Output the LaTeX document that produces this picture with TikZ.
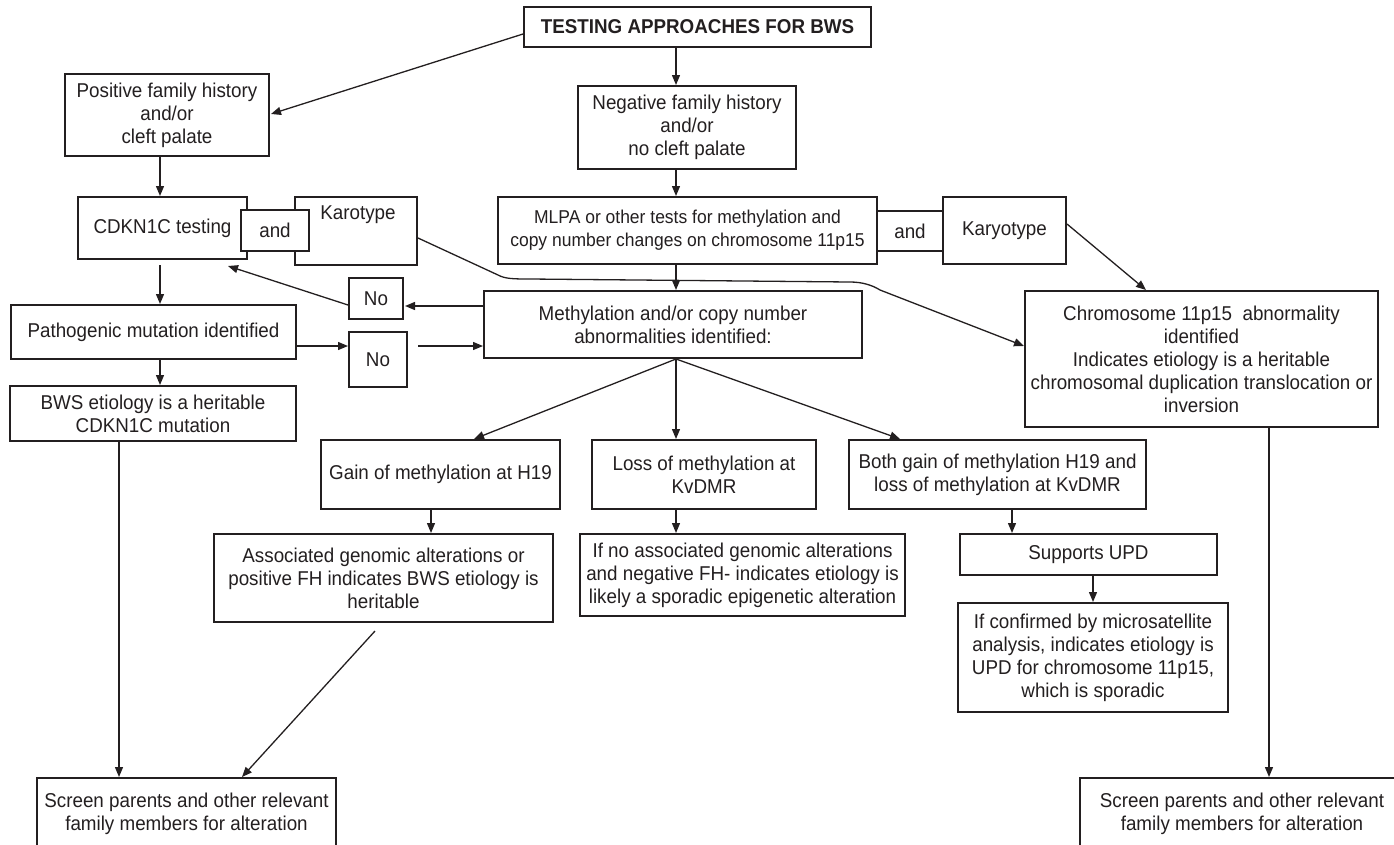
\documentclass[tikz,border=0pt]{standalone}
\usepackage{fontspec}
\setmainfont{Liberation Sans}[FakeStretch=0.94]
\usetikzlibrary{arrows.meta,calc}
\definecolor{ink}{HTML}{231F20}
\tikzset{
  box/.style={draw=ink, line width=2pt, fill=white, align=center, inner sep=0pt, text=ink,
              font=\fontsize{20}{23}\selectfont},
  txt/.style={align=center, inner sep=0pt, text=ink, font=\fontsize{20}{23}\selectfont},
  arr/.style={draw=ink, line width=1.3pt, -{Triangle[length=10pt,width=8pt]}},
  ln/.style={draw=ink, line width=1.3pt}
}
\begin{document}
\begin{tikzpicture}[x=1pt,y=-1pt]
\useasboundingbox (0,0) rectangle (1394,844);
% helper x positions
\coordinate (x676) at (676,0);
\coordinate (x160) at (160,0);
\coordinate (x119) at (119,0);
\coordinate (x431) at (431,0);
\coordinate (x1012) at (1012,0);
\coordinate (x1093) at (1093,0);
\coordinate (x1269) at (1269,0);

% nodes
\node[box, minimum width=347, minimum height=40] (title) at (697.5,27) {\textbf{TESTING APPROACHES FOR BWS}};
\node[box, minimum width=204, minimum height=82] (pos) at (167,115) {Positive family history\\and/or\\cleft palate};
\node[box, minimum width=218, minimum height=83] (neg) at (687,127.5) {Negative family history\\and/or\\no cleft palate};

\node[box, minimum width=169, minimum height=62] (cdk) at (162.5,228) {CDKN1C testing};
\node[box, minimum width=122, minimum height=68] (kar1) at (356,231) {};
\node[txt] (kar1t) at (358,215) {Karotype};
\node[box, minimum width=68, minimum height=41] (and1) at (275,230.5) {and};

\node[box, minimum width=379, minimum height=67, font=\fontsize{18.6}{23}\selectfont] (mlpa) at (687.5,230.5) {MLPA or other tests for methylation and\\copy number changes on chromosome 11p15};
\node[box, minimum width=123, minimum height=67] (kar2) at (1004.5,230.5) {Karyotype};
\node[box, minimum width=66, minimum height=40] (and2) at (910,231) {and};

\node[box, minimum width=285, minimum height=54] (path) at (153.5,332) {Pathogenic mutation identified};
\node[box, minimum width=54, minimum height=41] (no1) at (376,298.5) {No};
\node[box, minimum width=58, minimum height=55] (no2) at (378,359.5) {No};
\node[box, minimum width=378, minimum height=67] (meth) at (673,324.5) {Methylation and/or copy number\\abnormalities identified:};
\node[box, minimum width=353, minimum height=136] (chrom) at (1201.5,359) {Chromosome 11p15~~abnormality\\identified\\Indicates etiology is a heritable\\chromosomal duplication translocation or\\inversion};
\node[box, minimum width=286, minimum height=55] (bws) at (153,413.5) {BWS etiology is a heritable\\CDKN1C mutation};

\node[box, minimum width=239, minimum height=69] (gain) at (440.5,474.5) {Gain of methylation at H19};
\node[box, minimum width=224, minimum height=69] (loss) at (704,474.5) {Loss of methylation at\\KvDMR};
\node[box, minimum width=297, minimum height=69] (both) at (997.5,474.5) {Both gain of methylation H19 and\\loss of methylation at KvDMR};

\node[box, minimum width=339, minimum height=88] (assoc) at (383.5,578) {Associated genomic alterations or\\positive FH indicates BWS etiology is\\heritable};
\node[box, minimum width=325, minimum height=82] (ifno) at (742.5,575) {If no associated genomic alterations\\and negative FH- indicates etiology is\\likely a sporadic epigenetic alteration};
\node[box, minimum width=257, minimum height=41] (upd) at (1088.5,554.5) {Supports UPD};
\node[box, minimum width=270, minimum height=109] (conf) at (1093,657.5) {If confirmed by microsatellite\\analysis, indicates etiology is\\UPD for chromosome 11p15,\\which is sporadic};

\node[box, minimum width=299, minimum height=72] (scr1) at (186.5,814) {Screen parents and other relevant\\family members for alteration};
\node[box, minimum width=324, minimum height=72] (scr2) at (1242,814) {Screen parents and other relevant\\family members for alteration};

% connectors
\draw[arr] ($(title.west)+(0,7)$) -- ($(pos.east)+(1,-1)$);
\draw[arr] (title.south -| x676) -- (neg.north -| x676);
\draw[arr] (pos.south -| x160) -- (cdk.north -| x160);
\draw[arr] (neg.south -| x676) -- (mlpa.north -| x676);
\draw[arr] ($(cdk.south -| x160)+(0,5)$) -- (path.north -| x160);
\draw[arr] (path.south -| x160) -- (bws.north -| x160);
\draw[arr] (mlpa.south -| x676) -- (meth.north -| x676);
\draw[arr] ($(meth.west)+(0,-18.5)$) -- ($(no1.east)+(1,7.5)$);
\draw[arr] ($(no1.west)+(0,6.5)$) -- ($(cdk.south)+(65.5,6)$);
\draw[arr] ($(path.east)+(0,14)$) -- ($(no2.west)+(0,-13.5)$);
\draw[arr] ($(no2.east)+(10,-13.5)$) -- ($(meth.west)+(0,21.5)$);
\draw[arr] ($(kar2.east)+(0,-6.5)$) -- ($(chrom.north)+(-55.5,0)$);
\draw[arr] ($(kar1.east)+(0,7)$) -- (498,275) .. controls (505,279) and (515,279) .. (530,279)
   -- (850,282) .. controls (862,282) and (872,285) .. (880,290) -- ($(chrom.west)+(0,-13)$);
\draw[arr] (meth.south -| x676) -- ($(gain.north)+(33.5,0)$);
\draw[arr] (meth.south -| x676) -- (loss.north -| x676);
\draw[arr] (meth.south -| x676) -- ($(both.north)+(-97.5,0)$);
\draw[arr] (gain.south -| x431) -- (assoc.north -| x431);
\draw[arr] (loss.south -| x676) -- (ifno.north -| x676);
\draw[arr] (both.south -| x1012) -- (upd.north -| x1012);
\draw[arr] (upd.south -| x1093) -- (conf.north -| x1093);
\draw[arr] (bws.south -| x119) -- (scr1.north -| x119);
\draw[arr] ($(assoc.south)+(-8.5,8)$) -- ($(scr1.north)+(55.5,0)$);
\draw[arr] (chrom.south -| x1269) -- (scr2.north -| x1269);
\end{tikzpicture}
\end{document}
